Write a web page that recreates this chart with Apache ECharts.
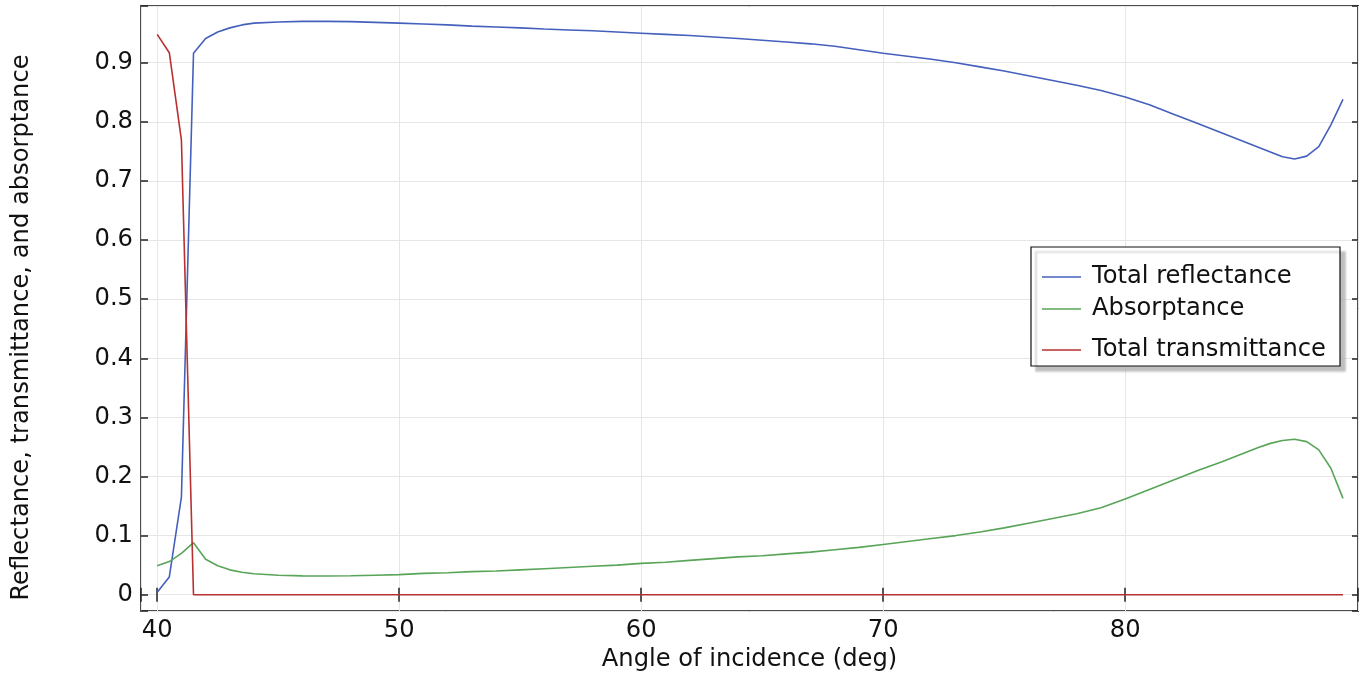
<!DOCTYPE html>
<html>
<head>
<meta charset="utf-8">
<script src="https://cdn.jsdelivr.net/npm/echarts@6/dist/echarts.min.js"></script>
<style>
html,body{margin:0;padding:0;background:#fff;}
#chart{width:1364px;height:674px;}
</style>
</head>
<body>
<div id="chart"></div>
<script>
var angles = [40,40.5,41,41.5,42,42.5,43,43.5,44,45,46,47,48,49,50,51,52,53,54,55,56,57,58,59,60,61,62,63,64,65,66,67,68,69,70,71,72,73,74,75,76,77,78,79,80,81,82,83,84,85,85.5,86,86.5,87,87.5,88,88.5,89];
var reflectance = [0.004,0.030,0.165,0.916,0.941,0.952,0.959,0.964,0.967,0.969,0.970,0.970,0.9695,0.9683,0.967,0.9655,0.964,0.962,0.9605,0.959,0.957,0.9555,0.954,0.952,0.950,0.948,0.946,0.9435,0.941,0.938,0.935,0.932,0.928,0.922,0.916,0.911,0.906,0.900,0.893,0.886,0.878,0.870,0.862,0.853,0.842,0.829,0.813,0.797,0.781,0.765,0.757,0.749,0.741,0.737,0.742,0.758,0.795,0.838];
var absorptance = [0.049,0.056,0.070,0.088,0.060,0.049,0.042,0.038,0.0355,0.033,0.0318,0.0316,0.032,0.033,0.034,0.036,0.037,0.039,0.040,0.042,0.044,0.046,0.048,0.050,0.053,0.055,0.058,0.061,0.064,0.066,0.069,0.072,0.076,0.080,0.085,0.090,0.095,0.100,0.106,0.113,0.121,0.129,0.137,0.147,0.162,0.178,0.194,0.210,0.225,0.241,0.249,0.256,0.261,0.263,0.259,0.245,0.214,0.163];
var transmittance = [0.948,0.917,0.769,0,0,0,0,0,0,0,0,0,0,0,0,0,0,0,0,0,0,0,0,0,0,0,0,0,0,0,0,0,0,0,0,0,0,0,0,0,0,0,0,0,0,0,0,0,0,0,0,0,0,0,0,0,0,0];
var seriesNames = ['Total reflectance','Absorptance','Total transmittance'];
var seriesColors = ['#4560bc','#58a558','#b83030'];

function pairs(vals){ return angles.map(function(a,i){ return [a, vals[i]]; }); }

var FONT = 'DejaVu Sans';
var FS = 24.2;
var xMin = 39.33, xMax = 89.62, yMin = -0.0276, yMax = 0.996;

function isMult(v, step){ var r = v/step; return Math.abs(r - Math.round(r)) < 1e-6; }

var chart = echarts.init(document.getElementById('chart'));
var option = {
  animation: false,
  backgroundColor: '#fff',
  grid: {left: 141, top: 6, right: 6, bottom: 63, outerBoundsMode: 'none', containLabel: false, show: true, borderColor: '#4d4d4d', borderWidth: 2, backgroundColor: 'transparent'},
  xAxis: [{
    type: 'value', min: xMin, max: xMax, position: 'bottom',
    name: 'Angle of incidence (deg)', nameLocation: 'middle', nameGap: 35,
    nameTextStyle: {fontFamily: FONT, fontSize: FS, color: '#111'},
    axisLine: {show: false},
    axisTick: {show: true, inside: true, length: 7, lineStyle: {color: '#222', width: 1.5}},
    axisLabel: {margin: 8, fontFamily: FONT, fontSize: FS, color: '#111',
      formatter: function(v){ return isMult(v,10) ? String(Math.round(v)) : ''; }},
    splitLine: {show: true, lineStyle: {color: '#e6e6e6', width: 1}}
  },{
    type: 'value', min: xMin, max: xMax, position: 'top',
    axisLine: {show: false},
    axisTick: {show: true, inside: true, length: 7, lineStyle: {color: '#222', width: 1.5}},
    axisLabel: {show: false},
    splitLine: {show: false}
  }],
  yAxis: [{
    type: 'value', min: yMin, max: yMax, splitNumber: 10, position: 'left',
    name: 'Reflectance, transmittance, and absorptance', nameLocation: 'middle', nameGap: 107,
    nameTextStyle: {fontFamily: FONT, fontSize: FS, color: '#111', padding: [0, 38, 0, 0]},
    axisLine: {show: false},
    axisTick: {show: true, inside: true, length: 7, lineStyle: {color: '#222', width: 1.5}},
    axisLabel: {margin: 8, fontFamily: FONT, fontSize: FS, color: '#111',
      formatter: function(v){ return (isMult(v,0.1) && v > -1e-9) ? String(Math.round(v*10)/10) : ''; }},
    splitLine: {show: true, lineStyle: {color: '#e6e6e6', width: 1}}
  },{
    type: 'value', min: yMin, max: yMax, splitNumber: 10, position: 'right',
    axisLine: {show: false},
    axisTick: {show: true, inside: true, length: 6, lineStyle: {color: '#222', width: 1.5}},
    axisLabel: {show: false},
    splitLine: {show: false}
  }],
  graphic: [{
    type: 'rect', z: 3,
    shape: {x: 1031, y: 247, width: 309, height: 119},
    style: {fill: '#fff', stroke: '#111', lineWidth: 1.2, shadowColor: 'rgba(170,170,170,0.75)', shadowOffsetX: 5, shadowOffsetY: 5, shadowBlur: 2}
  }],
  legend: [0,1,2].map(function(i){
    var tops = [265, 297, 338];
    return {
      z: 6, left: 1042, top: tops[i], orient: 'vertical', padding: 0,
      data: [{name: seriesNames[i], icon: 'rect'}],
      itemWidth: 39, itemHeight: 1.3,
      textStyle: {fontFamily: FONT, fontSize: FS, color: '#111', padding: [0,0,0,6]},
      selectedMode: false
    };
  }),
  series: [
    {name: seriesNames[0], type: 'line', data: pairs(reflectance), showSymbol: false, symbol: 'none', lineStyle: {color: seriesColors[0], width: 1.6}, itemStyle: {color: seriesColors[0]}, z: 2},
    {name: seriesNames[1], type: 'line', data: pairs(absorptance), showSymbol: false, symbol: 'none', lineStyle: {color: seriesColors[1], width: 1.6}, itemStyle: {color: seriesColors[1]}, z: 2},
    {name: seriesNames[2], type: 'line', data: pairs(transmittance), showSymbol: false, symbol: 'none', lineStyle: {color: seriesColors[2], width: 1.6}, itemStyle: {color: seriesColors[2]}, z: 2}
  ]
};
chart.setOption(option);
</script>
</body>
</html>
